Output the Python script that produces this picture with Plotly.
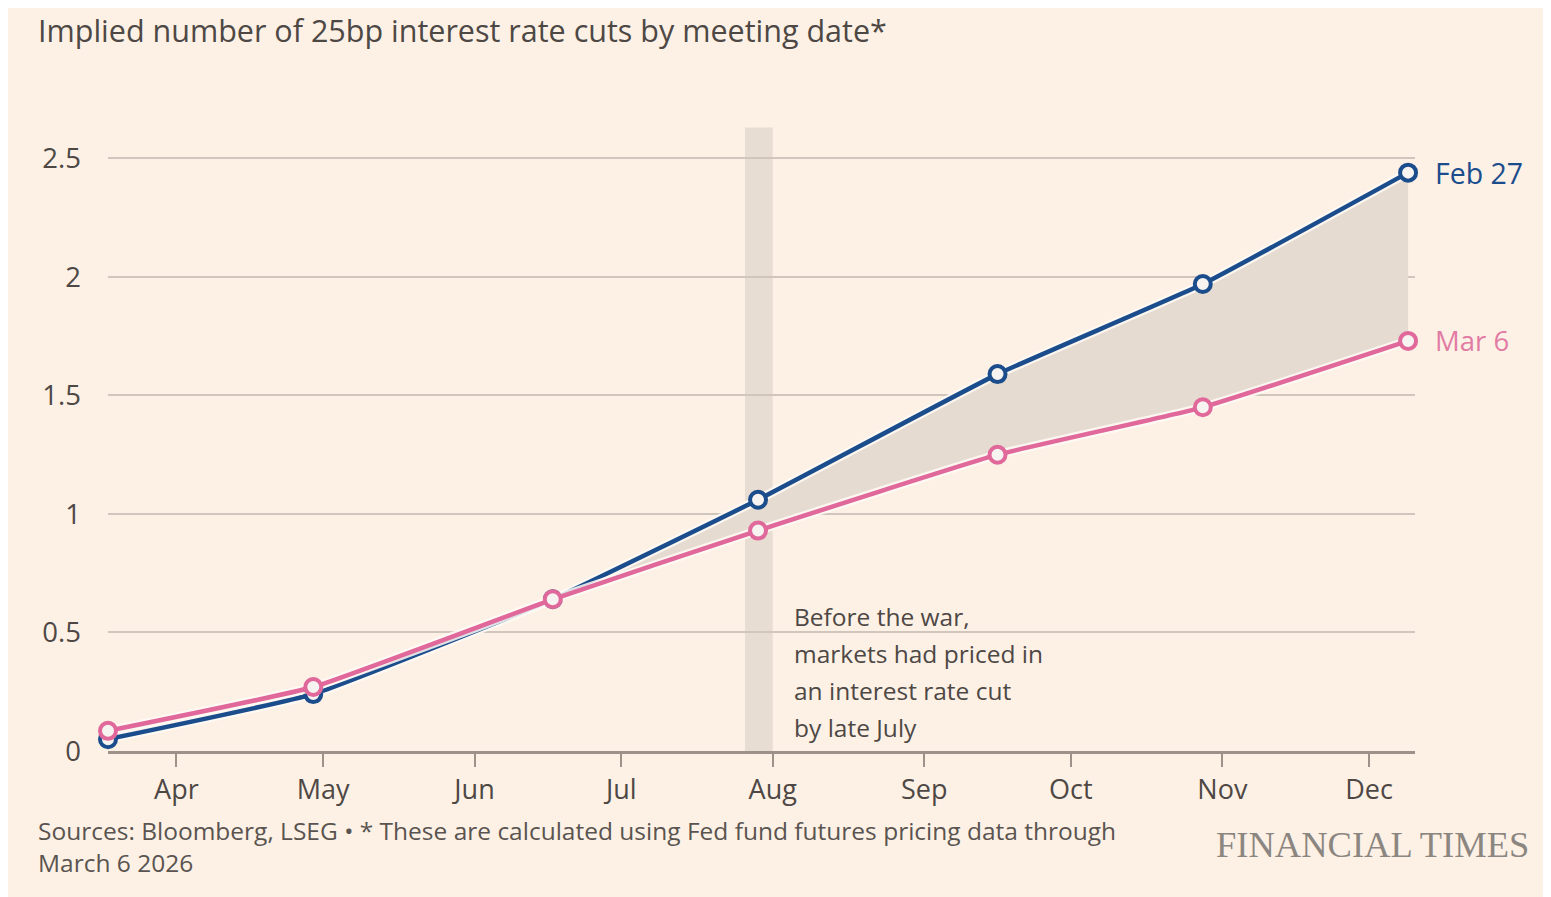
import plotly.graph_objects as go

# ---------------- data ----------------
meeting_dates = ["2026-03-18", "2026-04-29", "2026-06-17", "2026-07-29",
                 "2026-09-16", "2026-10-28", "2026-12-09"]
feb27_values = [0.05, 0.24, 0.64, 1.06, 1.59, 1.97, 2.44]
mar6_values = [0.085, 0.27, 0.64, 0.93, 1.25, 1.45, 1.73]
series_names = ["Feb 27", "Mar 6"]

month_ticks = ["2026-04-01", "2026-05-01", "2026-06-01", "2026-07-01", "2026-08-01",
               "2026-09-01", "2026-10-01", "2026-11-01", "2026-12-01"]
month_labels = ["Apr", "May", "Jun", "Jul", "Aug", "Sep", "Oct", "Nov", "Dec"]
y_ticks = [0, 0.5, 1, 1.5, 2, 2.5]
y_labels = ["0", "0.5", "1", "1.5", "2", "2.5"]

band_start = "2026-07-26 08:00"
band_end = "2026-08-01"
band_top = 2.63

title = "Implied number of 25bp interest rate cuts by meeting date*"
note_lines = ["Before the war,", "markets had priced in", "an interest rate cut", "by late July"]
source_line1 = "Sources: Bloomberg, LSEG \u2022 * These are calculated using Fed fund futures pricing data through"
source_line2 = "March 6 2026"
brand = "FINANCIAL TIMES"

# ---------------- style ----------------
BG = "#FDF1E6"
BLUE = "#1B4D8C"
PINK = "#E0689A"
PINK_TXT = "#E27BA4"
FILL = "#E5DBD1"
BAND = "#E8DDD3"
GRID = "#D0C6BD"
AXIS = "#9C928A"
TXT = "#4E4845"
FONT = "Open Sans"

# page has an 8px body margin; work in page pixels and convert
OFF = 8
W, H = 1543, 889
L = 108 - OFF
T = 111 - OFF
R = W - (1415 - OFF)
B = H - (751 - OFF)
plot_w = W - L - R
plot_h = H - T - B

def px_x(p):
    return (p - OFF - L) / plot_w

def px_y(p):
    return (H - B - (p - OFF)) / plot_h

fig = go.Figure()

# fill between the two curves
fig.add_trace(go.Scatter(x=meeting_dates, y=mar6_values, mode="lines",
                         line=dict(width=0, shape="spline", smoothing=0.35, color=PINK),
                         hoverinfo="skip", showlegend=False))
fig.add_trace(go.Scatter(x=meeting_dates, y=feb27_values, mode="lines",
                         line=dict(width=0, shape="spline", smoothing=0.35, color=BLUE),
                         fill="tonexty", fillcolor=FILL,
                         hoverinfo="skip", showlegend=False))

# halos + lines (blue first, pink on top)
for vals, col in [(feb27_values, BLUE), (mar6_values, PINK)]:
    fig.add_trace(go.Scatter(x=meeting_dates, y=vals, mode="lines",
                             line=dict(width=9, shape="spline", smoothing=0.35, color="rgba(255,250,245,0.85)"),
                             hoverinfo="skip", showlegend=False, cliponaxis=False))
    fig.add_trace(go.Scatter(x=meeting_dates, y=vals, mode="lines+markers",
                             line=dict(width=4.5, shape="spline", smoothing=0.35, color=col),
                             marker=dict(size=16, color="#F6F3F0", line=dict(width=4, color=col)),
                             showlegend=False, cliponaxis=False))

# shaded band
fig.add_shape(type="rect", xref="x", yref="y", x0=band_start, x1=band_end,
              y0=0, y1=band_top, fillcolor=BAND, line=dict(width=0), layer="below")

# series labels with small connector ticks
for name, vals, col, tcol, fs in [(series_names[0], feb27_values, BLUE, BLUE, 28.5),
                                  (series_names[1], mar6_values, PINK, PINK_TXT, 27.5)]:
    fig.add_shape(type="line", xref="x", yref="y", xsizemode="pixel",
                  xanchor=meeting_dates[-1], x0=9, x1=20,
                  y0=vals[-1], y1=vals[-1], line=dict(color=col, width=2))
    fig.add_annotation(x=meeting_dates[-1], y=vals[-1], xref="x", yref="y",
                       text=name, showarrow=False, xanchor="left", yanchor="middle",
                       xshift=25, font=dict(family=FONT, size=fs, color=tcol))

# note text
for i, line in enumerate(note_lines):
    fig.add_annotation(xref="paper", yref="paper", x=px_x(792), y=px_y(616 + 37 * i),
                       text=line, showarrow=False, xanchor="left", yanchor="middle",
                       font=dict(family=FONT, size=24.5, color=TXT))

# title
fig.add_annotation(xref="paper", yref="paper", x=px_x(36), y=px_y(30),
                   text=title, showarrow=False, xanchor="left", yanchor="middle",
                   font=dict(family=FONT, size=30.5, color=TXT))

# sources
fig.add_annotation(xref="paper", yref="paper", x=px_x(36), y=px_y(830),
                   text=source_line1, showarrow=False, xanchor="left", yanchor="middle",
                   font=dict(family=FONT, size=24.5, color="#5A5450"))
fig.add_annotation(xref="paper", yref="paper", x=px_x(36), y=px_y(862),
                   text=source_line2, showarrow=False, xanchor="left", yanchor="middle",
                   font=dict(family=FONT, size=24.5, color="#5A5450"))

# brand
fig.add_annotation(xref="paper", yref="paper", x=px_x(1531), y=px_y(844),
                   text=brand, showarrow=False, xanchor="right", yanchor="middle",
                   font=dict(family="Liberation Serif", size=36.5, color="#8C8681"))

fig.update_layout(
    width=W, height=H,
    margin=dict(l=L, r=R, t=T, b=B, pad=0),
    paper_bgcolor=BG,
    plot_bgcolor="rgba(0,0,0,0)",
    showlegend=False,
    font=dict(family=FONT, color=TXT),
)
fig.update_xaxes(type="date", range=["2026-03-18", "2026-12-10 10:00"],
                 tickvals=month_ticks, ticktext=month_labels,
                 ticks="outside", ticklen=13, tickwidth=2, tickcolor=AXIS,
                 showline=True, linecolor=AXIS, linewidth=3,
                 showgrid=False, zeroline=False,
                 tickfont=dict(family=FONT, size=27, color=TXT))
fig.update_yaxes(range=[0, 2.7], tickvals=y_ticks, ticktext=y_labels,
                 showgrid=True, gridcolor=GRID, gridwidth=2,
                 zeroline=False, showline=False, ticks="",
                 ticklabelstandoff=26,
                 tickfont=dict(family=FONT, size=27.5, color=TXT))

fig.write_html("out.html")
